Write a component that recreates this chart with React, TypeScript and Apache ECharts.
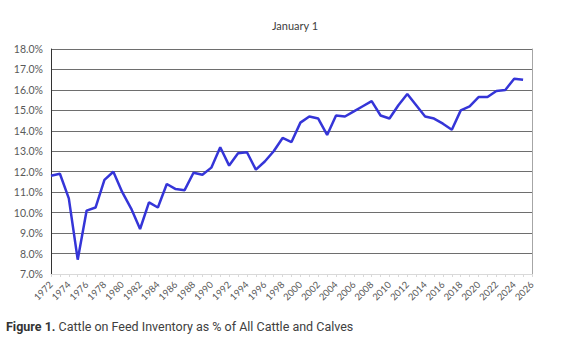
import React, { useEffect, useRef } from "react";
import * as echarts from "echarts";

const title = "January 1";
const captionBold = "Figure 1.";
const captionText = " Cattle on Feed Inventory as % of All Cattle and Calves";

const years = [
  "1972", "1973", "1974", "1975", "1976", "1977", "1978", "1979", "1980", "1981",
  "1982", "1983", "1984", "1985", "1986", "1987", "1988", "1989", "1990", "1991",
  "1992", "1993", "1994", "1995", "1996", "1997", "1998", "1999", "2000", "2001",
  "2002", "2003", "2004", "2005", "2006", "2007", "2008", "2009", "2010", "2011",
  "2012", "2013", "2014", "2015", "2016", "2017", "2018", "2019", "2020", "2021",
  "2022", "2023", "2024", "2025", "2026",
];

const pctOnFeed = [
  11.8, 11.9, 10.7, 7.7, 10.1, 10.25, 11.6, 12.0, 11.0, 10.2,
  9.2, 10.5, 10.25, 11.4, 11.15, 11.1, 11.95, 11.85, 12.2, 13.2,
  12.3, 12.9, 12.95, 12.1, 12.5, 13.0, 13.65, 13.45, 14.4, 14.7,
  14.6, 13.8, 14.75, 14.7, 14.95, 15.2, 15.45, 14.75, 14.6, 15.25,
  15.8, 15.25, 14.7, 14.6, 14.35, 14.05, 15.0, 15.2, 15.65, 15.65,
  15.95, 16.0, 16.55, 16.5,
];

const yMin = 7;
const yMax = 18;
const yStep = 1;

export default function App() {
  const ref = useRef<HTMLDivElement>(null);
  useEffect(() => {
    document.body.style.margin = "0";
    const chart = echarts.init(ref.current!, null, { renderer: "svg" });
    chart.setOption({
      animation: false,
      backgroundColor: "#ffffff",
      title: {
        text: title,
        left: 290,
        textAlign: "center",
        top: 15,
        textStyle: { fontFamily: "Lato", fontSize: 11, fontWeight: "normal", color: "#404040" },
      },
      grid: { left: 51, right: 29, top: 49, bottom: 80 },
      xAxis: {
        type: "category",
        data: years,
        boundaryGap: false,
        axisLine: { show: true, lineStyle: { color: "#d9d9d9", width: 1 } },
        axisTick: { show: true, interval: 0, length: 3, lineStyle: { color: "#d9d9d9" } },
        axisLabel: {
          interval: 1,
          rotate: 45,
          margin: 9,
          fontFamily: "Lato",
          fontSize: 9.5,
          color: "#595959",
        },
        splitLine: { show: false },
      },
      yAxis: [
        {
          type: "value",
          min: yMin,
          max: yMax,
          interval: yStep,
          axisLine: { show: true, lineStyle: { color: "#333333", width: 1 } },
          axisTick: { show: false },
          axisLabel: {
            fontFamily: "Lato",
            fontSize: 10.5,
            color: "#595959",
            margin: 8,
            formatter: (v: number) => v.toFixed(1) + "%",
          },
          splitLine: { show: true, lineStyle: { color: "#6e6e6e", width: 1 } },
        },
        {
          type: "value",
          position: "right",
          min: yMin,
          max: yMax,
          interval: yStep,
          axisLine: { show: true, lineStyle: { color: "#a6a6a6", width: 1 } },
          axisTick: { show: false },
          axisLabel: { show: false },
          splitLine: { show: false },
        },
      ],
      series: [
        {
          type: "line",
          data: pctOnFeed,
          yAxisIndex: 0,
          showSymbol: false,
          symbol: "none",
          lineStyle: { color: "#3535d8", width: 2.5 },
        },
      ],
      graphic: [
        {
          type: "text",
          left: 6,
          top: 320,
          style: {
            text: "{b|" + captionBold + "}{r|" + captionText + "}",
            rich: {
              b: { fontFamily: "Roboto", fontSize: 12.5, fontWeight: "bold", fill: "#333333" },
              r: { fontFamily: "Roboto", fontSize: 12.5, fill: "#404040" },
            },
          },
        },
      ],
    });
    return () => chart.dispose();
  }, []);
  return <div ref={ref} style={{ width: 561, height: 354 }} />;
}
